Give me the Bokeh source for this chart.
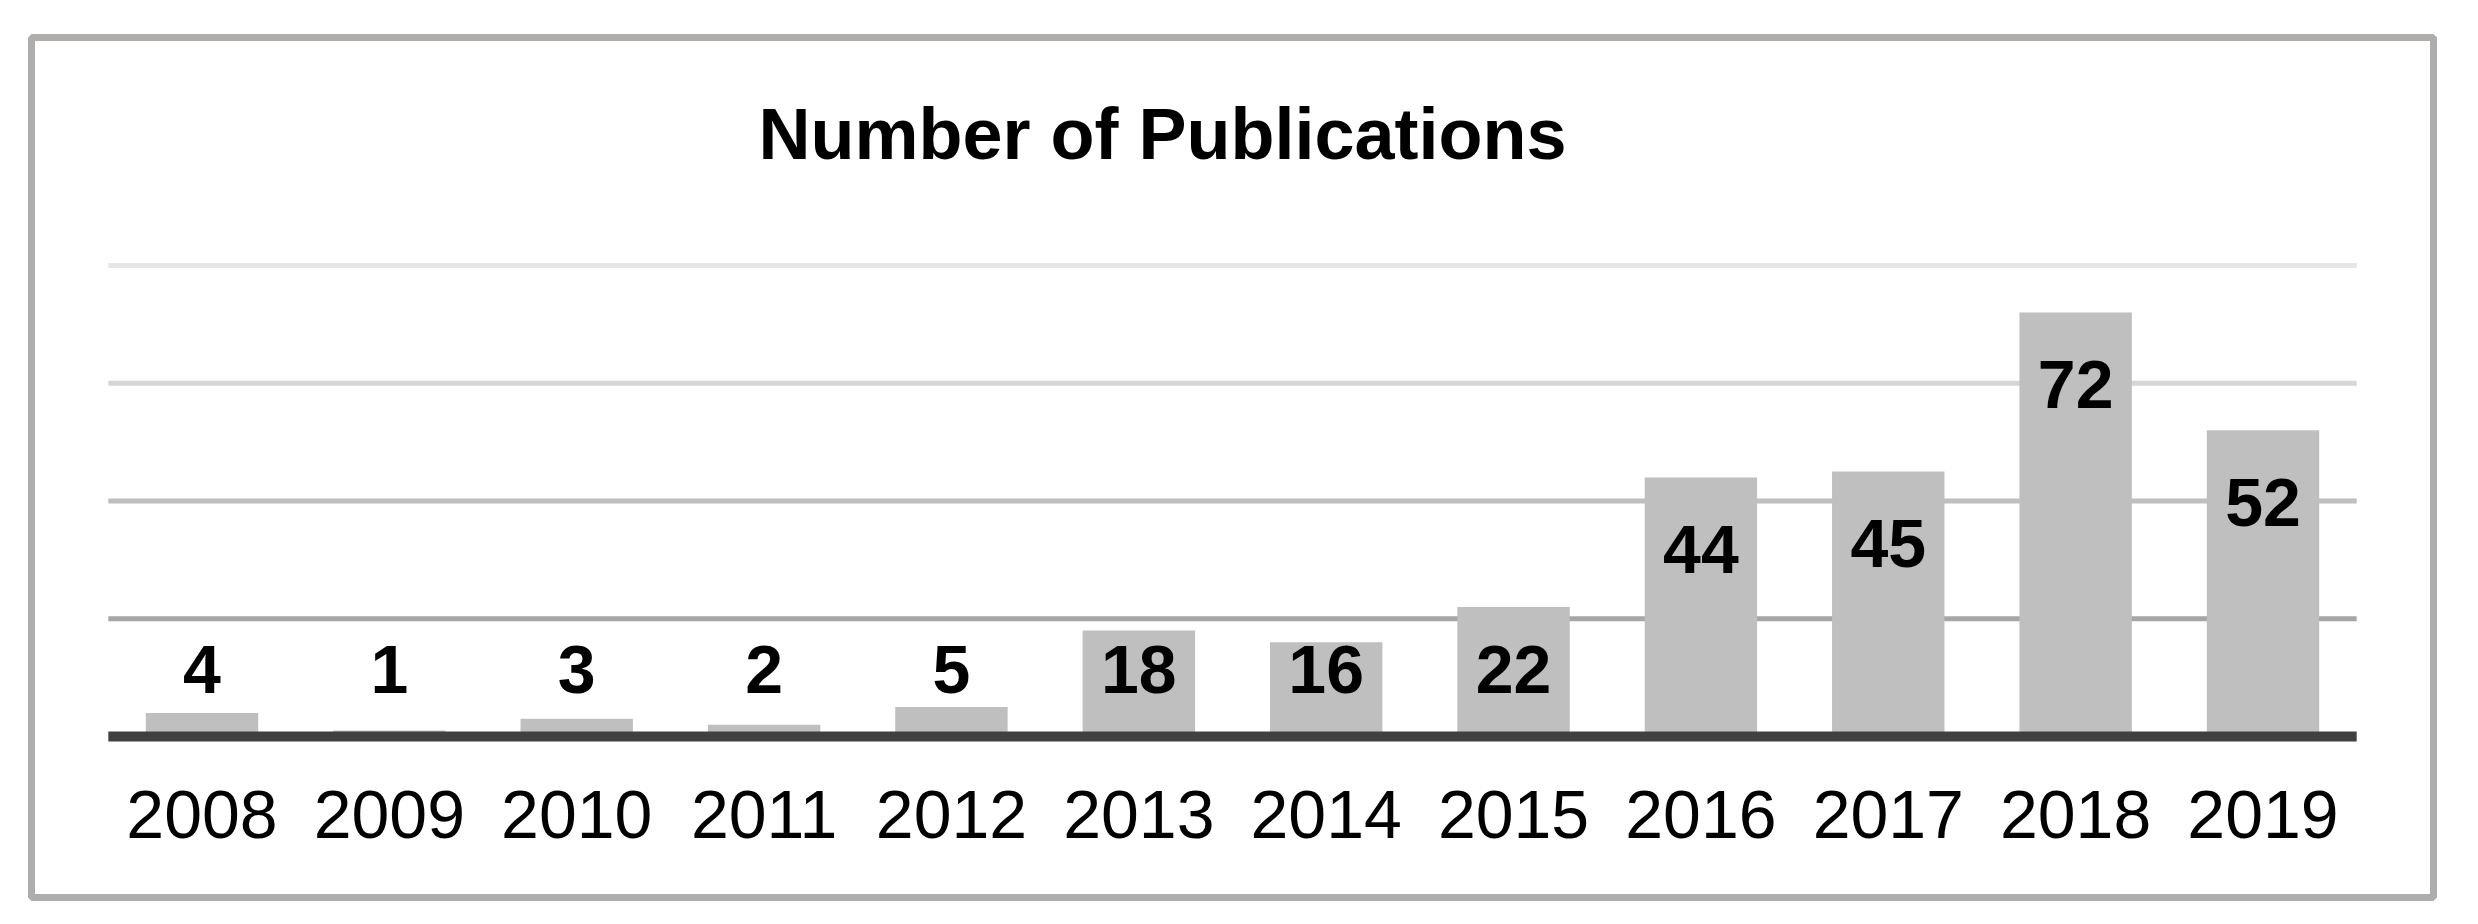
import numpy as np
from bokeh.plotting import figure
from bokeh.models import ColumnDataSource, FactorRange, Range1d, Label
from bokeh.core.properties import value
from bokeh.embed import file_html
from bokeh.resources import INLINE

# ---- data ----
years = ["2008", "2009", "2010", "2011", "2012", "2013",
         "2014", "2015", "2016", "2017", "2018", "2019"]
publications = [4, 1, 3, 2, 5, 18, 16, 22, 44, 45, 72, 52]
grid_values = [20, 40, 60, 80]
title_text = "Number of Publications"

# ---- styles ----
grid_colors = ["#a6a6a6", "#bfbfbf", "#d6d6d6", "#e6e6e6"]
BAR_COLOR = "#bfbfbf"
FONT = "Liberation Sans"

# layout (pixels)
W, H = 2462, 908
FL, FT, FR, FB = 31, 37, 29, 11          # frame margins
frame_h = H - FT - FB
px_per_unit = 5.8875
zero_from_bottom = 161                    # px from frame bottom to value 0
y_start = -zero_from_bottom / px_per_unit
y_end = y_start + frame_h / px_per_unit

src = ColumnDataSource(dict(
    year=years,
    count=publications,
    label=[str(v) for v in publications],
    label_y=np.maximum(np.array(publications, dtype=float) - 12.2, 11.4),
))
grid_src = ColumnDataSource(dict(y=grid_values, color=grid_colors))

p = figure(
    x_range=FactorRange(factors=years, range_padding=0.82 / len(years)),
    y_range=Range1d(y_start, y_end),
    width=W, height=H,
    min_border_left=FL, min_border_top=FT, min_border_right=FR, min_border_bottom=FB,
    output_backend="svg", toolbar_location=None, y_axis_location=None,
    background_fill_color="white", border_fill_color="white",
)
p.outline_line_color = "#afacac"
p.outline_line_width = 7
p.xgrid.visible = False
p.ygrid.visible = False

# gridlines
p.segment(x0=0, x1=len(years), y0="y", y1="y", line_color="color",
          line_width=5, source=grid_src)

# bars
p.vbar(x="year", top="count", width=0.6, source=src,
       fill_color=BAR_COLOR, line_color=None)

# baseline
p.segment(x0=0, x1=len(years), y0=0, y1=0, line_color="#404040", line_width=10)

# value labels
p.text(x="year", y="label_y", text="label", source=src,
       text_font=value(FONT), text_font_style="bold", text_font_size="68px",
       text_align="center", text_baseline="middle", text_color="black")

# x axis placed at y=0 inside the frame
ax = p.xaxis[0]
ax.fixed_location = 0
ax.axis_line_color = None
ax.major_tick_line_color = None
ax.minor_tick_line_color = None
ax.major_label_text_font = FONT
ax.major_label_text_font_size = "68px"
ax.major_label_text_color = "black"
ax.major_label_standoff = 48

# title
p.add_layout(Label(x=1131, y=764, x_units="screen", y_units="screen",
                   text=title_text, text_align="center", text_baseline="alphabetic",
                   text_font=FONT, text_font_style="bold", text_font_size="72px",
                   text_color="black"))

open("out.html", "w").write(file_html(p, INLINE))
